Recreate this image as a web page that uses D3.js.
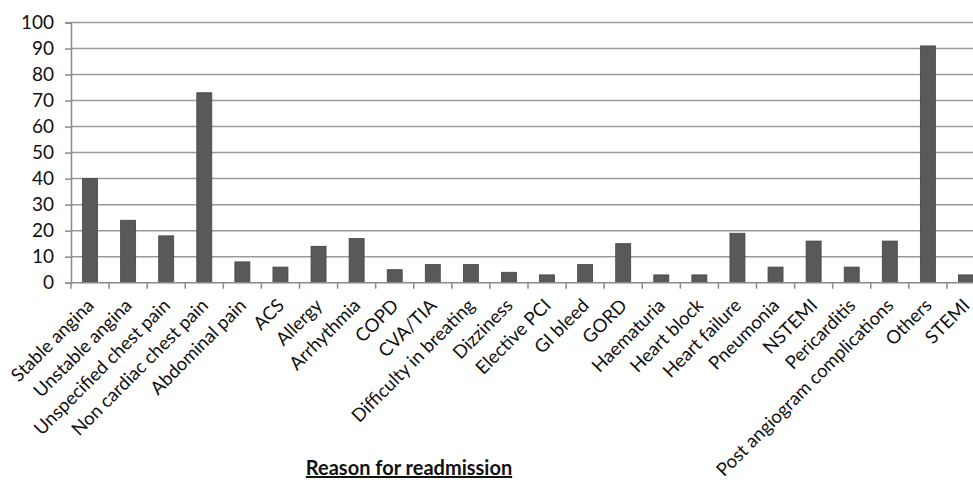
<!DOCTYPE html>
<html><head><meta charset="utf-8">
<script src="https://cdn.jsdelivr.net/npm/d3@7"></script>
<style>
html,body{margin:0;padding:0;background:#fff;}
svg{display:block;}
text{font-family:Lato, "Open Sans", sans-serif;fill:#111;}
</style></head>
<body>
<svg id="chart" width="973" height="480"></svg>
<script>
const categories = ["Stable angina","Unstable angina","Unspecified chest pain","Non cardiac chest pain","Abdominal pain","ACS","Allergy","Arrhythmia","COPD","CVA/TIA","Difficulty in breating","Dizziness","Elective PCI","GI bleed","GORD","Haematuria","Heart block","Heart failure","Pneumonia","NSTEMI","Pericarditis","Post angiogram complications","Others","STEMI"];
const values = [40,24,18,73,8,6,14,17,5,7,7,4,3,7,15,3,3,19,6,16,6,16,91,3];
const yTicks = [0,10,20,30,40,50,60,70,80,90,100];
const axisTitle = "Reason for readmission";

const svg = d3.select("#chart");
const x = d3.scaleBand().domain(categories).range([71, 985]).paddingInner(0).paddingOuter(0);
const y = d3.scaleLinear().domain([0,100]).range([282.7, 22.5]);

// gridlines
svg.append("g").selectAll("line").data(yTicks.filter(d=>d>0)).join("line")
  .attr("x1",71).attr("x2",973)
  .attr("y1",d=>y(d)).attr("y2",d=>y(d))
  .attr("stroke","#9a9a9a").attr("stroke-width",1.5);

// y axis
const yAxis = svg.append("g").attr("transform","translate(71,0)")
  .call(d3.axisLeft(y).tickValues(yTicks).tickSize(6).tickPadding(11));
yAxis.select(".domain").attr("stroke","#8a8a8a").attr("stroke-width",1.5);
yAxis.selectAll(".tick line").attr("stroke","#8a8a8a").attr("stroke-width",1.5);
yAxis.selectAll("text").attr("font-size",19).attr("font-family","Lato, sans-serif").attr("fill","#111");

// bars
const bw = 15;
svg.append("g").selectAll("rect").data(values).join("rect")
  .attr("x",(d,i)=>x(categories[i]) + x.bandwidth()/2 - bw/2)
  .attr("width",bw)
  .attr("y",d=>y(d))
  .attr("height",d=>y(0)-y(d))
  .attr("fill","#595959").attr("stroke","#444").attr("stroke-width",0.8);

// x axis
const xAxisG = svg.append("g").attr("transform",`translate(0,${y(0)})`);
xAxisG.append("line").attr("x1",71).attr("x2",973).attr("y1",0).attr("y2",0)
  .attr("stroke","#8a8a8a").attr("stroke-width",1.5);
xAxisG.selectAll("line.tk").data(categories).join("line").attr("class","tk")
  .attr("x1",d=>x(d)).attr("x2",d=>x(d)).attr("y1",0).attr("y2",6)
  .attr("stroke","#8a8a8a").attr("stroke-width",1.5);
xAxisG.selectAll("text").data(categories).join("text")
  .attr("text-anchor","end")
  .attr("font-size",18.5)
  .attr("transform",d=>`translate(${x(d)+x.bandwidth()/2+5},${24}) rotate(-45)`)
  .text(d=>d);

// axis title
svg.append("text").attr("x",409).attr("y",475).attr("text-anchor","middle")
  .attr("font-size",20).attr("font-weight","bold").attr("text-decoration","underline")
  .text(axisTitle);
</script>
</body></html>
